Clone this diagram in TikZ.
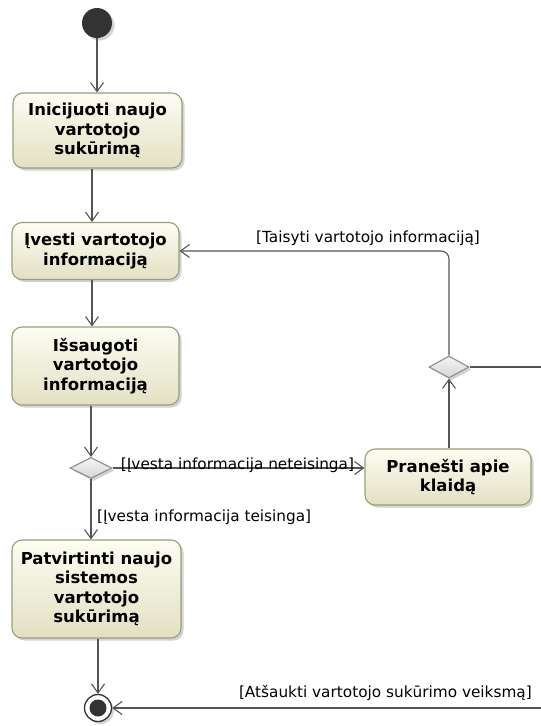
\documentclass[tikz,border=0pt]{standalone}
\usepackage{fontspec}
\setmainfont{DejaVu Sans}
\usetikzlibrary{arrows.meta,shapes.geometric,shadows}

\definecolor{flow}{HTML}{555555}
\definecolor{actborder}{HTML}{9C9C7C}
\definecolor{acttop}{HTML}{FDFDF3}
\definecolor{actbot}{HTML}{E2E0C2}
\definecolor{decborder}{HTML}{8F8F86}
\definecolor{dectop}{HTML}{F4F4F4}
\definecolor{decbot}{HTML}{D6D6D6}
\definecolor{dot}{HTML}{333333}

\tikzset{
  shade box/.style={drop shadow={opacity=0.35, shadow xshift=2.5pt, shadow yshift=-2.5pt}},
  action/.style={draw=actborder, line width=1.1pt, rounded corners=10pt,
    top color=acttop, bottom color=actbot, shade box,
    font=\fontsize{16.5}{19.5}\selectfont\bfseries, align=center,
    inner sep=0pt},
  decision/.style={diamond, draw=decborder, line width=1.1pt,
    top color=dectop, bottom color=decbot, shade box, inner sep=0pt,
    minimum width=42pt, minimum height=21pt},
  startnode/.style={circle, fill=dot, minimum size=30pt, inner sep=0pt, shade box},
  endouter/.style={circle, draw=dot, line width=1.3pt, fill=white, minimum size=27pt,
    inner sep=0pt, shade box},
  flowline/.style={draw=flow, line width=1.1pt},
  arr/.style={flowline, -{Straight Barb[length=9pt, width=13pt, line width=1.1pt]}},
  guard/.style={font=\fontsize{15.3}{18}\selectfont, inner sep=0pt, text=black},
}

\begin{document}
\begin{tikzpicture}[x=1pt, y=-1pt]
  \useasboundingbox (0,0) rectangle (541,726);

  % nodes of the activity
  \node[startnode] (init) at (97,23) {};
  \node[action, minimum width=169pt, minimum height=75pt] (a1) at (97.5,130.5)
    {Inicijuoti naujo\\vartotojo\\sukūrimą};
  \node[action, minimum width=167pt, minimum height=57pt] (a2) at (95.5,251)
    {Įvesti vartotojo\\informaciją};
  \node[action, minimum width=167pt, minimum height=78pt] (a3) at (95.5,366)
    {Išsaugoti\\vartotojo\\informaciją};
  \node[decision] (d1) at (91,468) {};
  \node[action, minimum width=166pt, minimum height=56pt] (a4) at (448,477)
    {Pranešti apie\\klaidą};
  \node[decision, minimum width=40pt, minimum height=22pt] (d2) at (449,367) {};
  \node[action, minimum width=169pt, minimum height=98pt] (a5) at (96.5,589)
    {Patvirtinti naujo\\sistemos\\vartotojo\\sukūrimą};
  \node[endouter] (fin) at (98,708) {};
  \fill[dot] (fin.center) circle (8.5pt);

  % flows leaving the drawing area on the right
  \coordinate (exitR) at (541,367);
  \coordinate (cancelR) at (541,708);

  % control flows
  \draw[arr] (init.south) -- (init.south |- a1.north);
  \draw[arr] ([xshift=-5.5pt]a1.south) -- ([xshift=-5.5pt]a1.south |- a2.north);
  \draw[arr] ([xshift=-3.5pt]a2.south) -- ([xshift=-3.5pt]a2.south |- a3.north);
  \draw[arr] (d1.north |- a3.south) -- (d1.north);
  \draw[arr] (d1.east) -- (d1.east -| a4.west);
  \draw[arr] (d1.south) -- (d1.south |- a5.north);
  \draw[arr] (d2.south |- a4.north) -- (d2.south);
  \draw[arr, rounded corners=8pt] (d2.north) |- (a2.east);
  \draw[flowline] (d2.east) -- (exitR);
  \draw[arr] (a5.south -| fin.north) -- (fin.north);
  \draw[arr] (cancelR) -- (fin.east);

  % guards
  \node[guard] (g1) at (368,238) {[Taisyti vartotojo informaciją]};
  \node[guard, anchor=base] (g2) at (237.5,469) {[Įvesta informacija neteisinga]};
  \node[guard, anchor=west] (g3) at (97,517) {[Įvesta informacija teisinga]};
  \node[guard, anchor=base east] (g4) at (532,697) {[Atšaukti vartotojo sukūrimo veiksmą]};
\end{tikzpicture}
\end{document}
